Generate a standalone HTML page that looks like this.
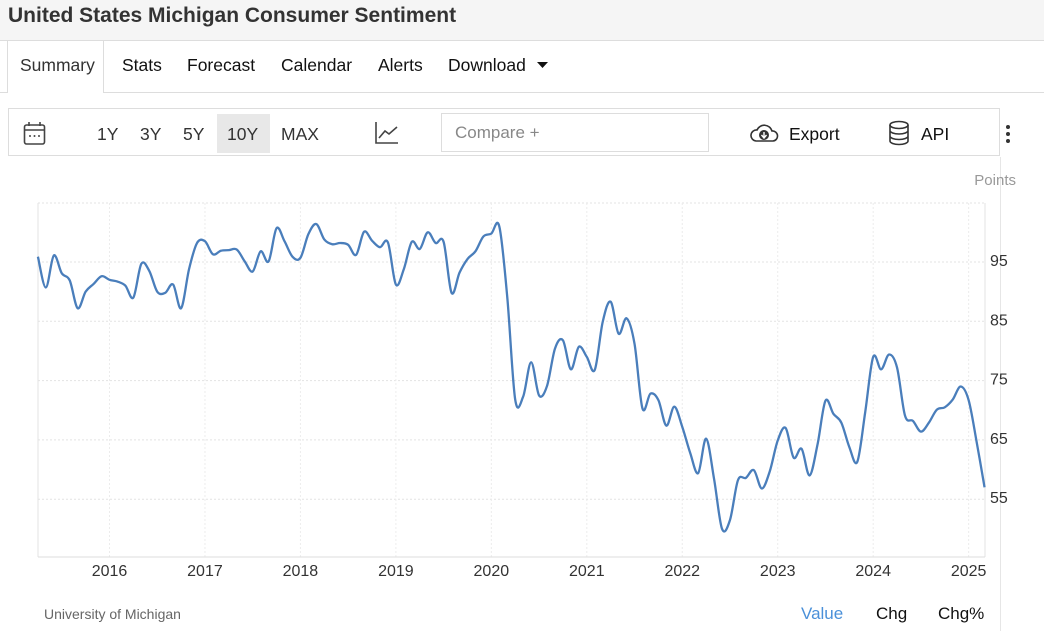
<!DOCTYPE html>
<html><head><meta charset="utf-8"><style>
body{margin:0;width:1044px;height:631px;overflow:hidden;background:#fff;font-family:"Liberation Sans",Arial,sans-serif;position:relative}
.abs{position:absolute}
#hdr{left:0;top:0;width:1044px;height:40px;background:#f5f5f5;border-bottom:1px solid #ddd}
#title{left:8px;top:4px;font-size:21px;font-weight:bold;color:#333}
.tab{top:55px;font-size:17.5px;color:#111}
#tabline{left:0;top:92px;width:1044px;height:1px;background:#ddd}
#sumtab{left:7px;top:41px;width:95px;height:52px;border-left:1px solid #ddd;border-right:1px solid #ddd;background:#fff}
#toolbar{left:8px;top:108px;width:992px;height:48px;border:1px solid #ddd;box-sizing:border-box}
.rng{top:124px;font-size:17.5px;color:#333}
#compare{left:441px;top:113px;width:268px;height:39px;border:1px solid #ddd;box-sizing:border-box;color:#888;font-size:17px;padding:9px 0 0 13px}
.foot{font-size:17px;top:604px}
</style></head><body>
<div class="abs" id="hdr"></div>
<div class="abs" id="title">United States Michigan Consumer Sentiment</div>
<div class="abs" id="tabline"></div>
<div class="abs" id="sumtab"></div>
<div class="abs tab" style="left:20px;color:#333">Summary</div>
<div class="abs tab" style="left:122px">Stats</div>
<div class="abs tab" style="left:187px">Forecast</div>
<div class="abs tab" style="left:281px">Calendar</div>
<div class="abs tab" style="left:378px">Alerts</div>
<div class="abs tab" style="left:448px">Download</div>
<svg class="abs" style="left:537px;top:62px" width="11" height="7"><polygon points="0,0 11,0 5.5,6" fill="#111"/></svg>
<div class="abs" id="toolbar"></div>
<svg class="abs" style="left:23px;top:121px" width="24" height="26"><rect x="1.5" y="4" width="20" height="19" rx="2" fill="none" stroke="#444" stroke-width="1.6"/><line x1="1.5" y1="9" x2="21.5" y2="9" stroke="#444" stroke-width="1.6"/><line x1="6" y1="1" x2="6" y2="5" stroke="#444" stroke-width="1.6"/><line x1="17" y1="1" x2="17" y2="5" stroke="#444" stroke-width="1.6"/><circle cx="7" cy="15" r="1" fill="#444"/><circle cx="11.5" cy="15" r="1" fill="#444"/><circle cx="16" cy="15" r="1" fill="#444"/></svg>
<div class="abs rng" style="left:97px">1Y</div>
<div class="abs rng" style="left:140px">3Y</div>
<div class="abs rng" style="left:183px">5Y</div>
<div class="abs" style="left:217px;top:114px;width:53px;height:39px;background:#e8e8e8"></div>
<div class="abs rng" style="left:227px">10Y</div>
<div class="abs rng" style="left:281px">MAX</div>
<svg class="abs" style="left:375px;top:121px" width="24" height="24"><polyline points="1,1 1,22 23,22" fill="none" stroke="#444" stroke-width="1.6"/><polyline points="4,17 10,10 14,13 22,6" fill="none" stroke="#444" stroke-width="1.6"/></svg>
<div class="abs" id="compare">Compare +</div>
<svg class="abs" style="left:748px;top:122px" width="32" height="22"><path d="M8 19 H25 A5 5 0 0 0 24 9 A8 8 0 0 0 9 8 A5.5 5.5 0 0 0 8 19 Z" fill="none" stroke="#333" stroke-width="1.6"/><circle cx="16" cy="13" r="5" fill="#333"/><path d="M16 10 V15 M13.5 13 L16 16 L18.5 13" stroke="#fff" stroke-width="1.4" fill="none"/></svg>
<div class="abs" style="left:789px;top:124px;font-size:17.5px;color:#111">Export</div>
<svg class="abs" style="left:888px;top:120px" width="22" height="26"><ellipse cx="11" cy="5" rx="9" ry="3.5" fill="none" stroke="#333" stroke-width="1.6"/><path d="M2 5 V21 A9 3.5 0 0 0 20 21 V5 M2 10.5 A9 3.5 0 0 0 20 10.5 M2 16 A9 3.5 0 0 0 20 16" fill="none" stroke="#333" stroke-width="1.6"/></svg>
<div class="abs" style="left:921px;top:124px;font-size:17.5px;color:#111">API</div>
<svg class="abs" style="left:1004px;top:124px" width="8" height="20"><circle cx="4" cy="3" r="2" fill="#333"/><circle cx="4" cy="10" r="2" fill="#333"/><circle cx="4" cy="17" r="2" fill="#333"/></svg>
<div class="abs" style="left:1000px;top:157px;width:1px;height:474px;background:#e6e6e6"></div>
<svg id="chart" class="abs" style="left:0;top:0" width="1044" height="631"></svg>
<div class="abs" style="left:44px;top:606px;font-size:14px;color:#666">University of Michigan</div>
<div class="abs foot" style="left:801px;color:#4a90d9">Value</div>
<div class="abs foot" style="left:876px;color:#111">Chg</div>
<div class="abs foot" style="left:938px;color:#111">Chg%</div>
<script>
const startYear = 2015, startMonth = 4;
const values = [95.9,90.7,96.1,93.1,91.9,87.2,90.0,91.3,92.6,
92.0,91.7,91.0,89.0,94.7,93.5,90.0,89.8,91.2,87.2,93.8,98.2,
98.5,96.3,96.9,97.0,97.1,95.1,93.4,96.8,95.1,100.7,98.5,95.9,
95.7,99.7,101.4,98.8,98.0,98.2,97.9,96.2,100.1,98.6,97.5,98.3,
91.2,93.8,98.4,97.2,100.0,98.2,98.4,89.8,93.2,95.5,96.8,99.3,
99.8,101.0,89.1,71.8,72.3,78.1,72.5,74.1,80.4,81.8,76.9,80.7,
79.0,76.8,84.9,88.3,82.9,85.5,81.2,70.3,72.8,71.7,67.4,70.6,
67.2,62.8,59.4,65.2,58.4,50.0,51.5,58.2,58.6,59.9,56.8,59.7,
64.9,67.0,62.0,63.5,59.0,64.2,71.6,69.4,67.9,63.8,61.3,69.7,
79.0,76.9,79.4,77.2,69.1,68.2,66.4,67.9,70.1,70.5,71.8,74.0,
71.7,64.7,57.0];
const yTicks = [55,65,75,85,95];
const xTickYears = [2016,2017,2018,2019,2020,2021,2022,2023,2024,2025];
const NS='http://www.w3.org/2000/svg';
const svg=document.getElementById('chart');
const x0=38,x1=985,yTop=203,yBot=557;
function xMonth(i){return 109.5+(i-(13-startMonth))*7.955;}
function xYear(yr){return xMonth((yr-startYear)*12+1-startMonth);}
function yv(v){return 262+(95-v)*5.93;}
function mk(t,a){const e=document.createElementNS(NS,t);for(const k in a)e.setAttribute(k,a[k]);svg.appendChild(e);return e;}
let g=mk('line',{x1:x0,y1:yTop,x2:x1,y2:yTop,stroke:'#e3e3e3','stroke-dasharray':'2,2'});


yTicks.forEach(t=>{
 const l=mk('line',{x1:x0,y1:yv(t),x2:x1,y2:yv(t),stroke:'#e3e3e3','stroke-dasharray':'2,2'});
 
 
 const tx=mk('text',{x:990,y:yv(t)+4,'font-size':'16','fill':'#333','font-family':'Liberation Sans, sans-serif'});
 tx.textContent=t;
 
 
});
xTickYears.forEach(yr=>{
 const x=xYear(yr);
 const l=mk('line',{x1:x,y1:yTop,x2:x,y2:yBot,stroke:'#ececec','stroke-dasharray':'2,2'});
 
 
 const tx=mk('text',{x:x,y:576,'font-size':'16','fill':'#333','text-anchor':'middle','font-family':'Liberation Sans, sans-serif'});
 tx.textContent=yr;
 
 
});
let ax=mk('line',{x1:x0,y1:yTop,x2:x0,y2:yBot,stroke:'#e3e3e3'});


let ax2=mk('line',{x1:x1,y1:yTop,x2:x1,y2:yBot,stroke:'#e3e3e3'});


let ax3=mk('line',{x1:x0,y1:yBot,x2:x1,y2:yBot,stroke:'#ddd'});


const pu=mk('text',{x:1016,y:185,'font-size':'15','fill':'#999','text-anchor':'end','font-family':'Liberation Sans, sans-serif'});
pu.textContent='Points';


const pts=values.map((v,i)=>[xMonth(i),yv(v)]);
let d='M'+pts[0][0]+','+pts[0][1];
for(let i=0;i<pts.length-1;i++){
 const p0=pts[Math.max(0,i-1)],p1=pts[i],p2=pts[i+1],p3=pts[Math.min(pts.length-1,i+2)];
 const c1=[p1[0]+(p2[0]-p0[0])/6,p1[1]+(p2[1]-p0[1])/6];
 const c2=[p2[0]-(p3[0]-p1[0])/6,p2[1]-(p3[1]-p1[1])/6];
 d+=' C'+c1[0]+','+c1[1]+' '+c2[0]+','+c2[1]+' '+p2[0]+','+p2[1];
}
const line=mk('path',{d:d,fill:'none',stroke:'#4a7ebb','stroke-width':'2.3','stroke-linejoin':'round'});


</script>
</body></html>
